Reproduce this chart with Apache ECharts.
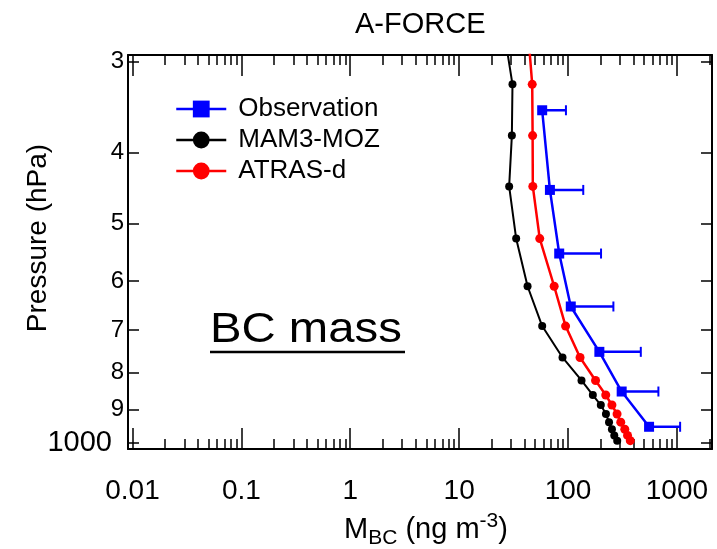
<!DOCTYPE html>
<html>
<head>
<meta charset="utf-8">
<script src="https://cdn.jsdelivr.net/npm/echarts@6/dist/echarts.min.js"></script>
<style>
html, body { margin: 0; padding: 0; background: #fff; }
#chart { width: 717px; height: 549px; }
</style>
</head>
<body>
<div id="chart"></div>
<script>
// model levels (hPa), first one sits above the plot top and gets clipped
const modelLevels = [274.1, 322.5, 379.1, 445.0, 524.7, 609.8, 691.4, 763.4, 820.9, 859.5, 887.0, 912.6, 936.2, 957.5, 976.3, 992.6];
const mam3Moz = [26, 30.9, 30.5, 28.8, 33.4, 42.5, 57.9, 89, 133, 169, 200, 223, 238, 253, 266, 283];
const atrasD = [43, 46.9, 47.3, 47.5, 55, 74.6, 95, 129, 179, 222, 253, 282, 305, 332, 352, 373];

const obsLevels = [350, 450, 550, 650, 750, 850, 950];
const obsMean = [57.9, 68.2, 83, 106, 194, 311, 555];
const obsUpper = [95.7, 138, 201, 261, 466, 676, 1070];

const xTicks = [0.01, 0.1, 1, 10, 100, 1000];
const xLabels = ['0.01', '0.1', '1', '10', '100', '1000'];
const yTicks = [300, 400, 500, 600, 700, 800, 900, 1000];
const yLabels = ['3', '4', '5', '6', '7', '8', '9', '1000'];

const FONT = 'Liberation Sans, Arial, sans-serif';

var minorTicks = [];
xTicks.forEach(function (d) {
    for (var k = 2; k <= 9; k++) {
        if (k * d <= 2100) minorTicks.push(k * d);
    }
});

function pairs(xs, ys) {
    return xs.map(function (v, i) { return [v, ys[i]]; });
}

var chart = echarts.init(document.getElementById('chart'));

var xRange = { min: 0.0091, max: 2100 };
var axisLine = { show: true, onZero: false, lineStyle: { color: '#000', width: 2 } };

function xAxisDef(pos, major, withLabel) {
    return {
        type: 'log',
        position: pos,
        min: xRange.min,
        max: xRange.max,
        axisLine: major ? axisLine : { show: false },
        splitLine: { show: false },
        axisTick: {
            show: true,
            inside: true,
            length: major ? 21 : 10,
            customValues: major ? xTicks : minorTicks,
            lineStyle: { color: '#000', width: 1.5 }
        },
        axisLabel: withLabel ? {
            show: true,
            customValues: xTicks,
            margin: 28,
            fontSize: 28,
            fontFamily: FONT,
            color: '#000',
            formatter: function (v) {
                var i = xTicks.findIndex(function (t) { return Math.abs(t - v) / t < 1e-6; });
                return i >= 0 ? xLabels[i] : '';
            }
        } : { show: false }
    };
}

function yAxisDef(pos, withLabel) {
    return {
        type: 'log',
        position: pos,
        inverse: true,
        min: 294,
        max: 1019,
        axisLine: axisLine,
        splitLine: { show: false },
        axisTick: {
            show: true,
            inside: true,
            length: 11,
            customValues: yTicks,
            lineStyle: { color: '#000', width: 1.5 }
        },
        axisLabel: withLabel ? {
            show: true,
            customValues: yTicks,
            margin: 4,
            fontSize: 24,
            fontFamily: FONT,
            color: '#000',
            formatter: function (v) {
                var i = yTicks.indexOf(Math.round(v));
                if (i < 0) return '';
                return i === yTicks.length - 1 ? '{big|' + yLabels[i] + '}' : yLabels[i];
            },
            rich: { big: { fontSize: 29, fontFamily: FONT, color: '#000', padding: [0, 12, 0, 0] } }
        } : { show: false }
    };
}

var option = {
    animation: false,
    backgroundColor: '#fff',
    title: {
        text: 'A-FORCE',
        left: 350,
        top: 5,
        textStyle: { fontSize: 29, fontWeight: 'normal', fontFamily: FONT, color: '#000' }
    },
    grid: { left: 128, top: 55, right: 5, bottom: 100, outerBoundsMode: 'none' },
    legend: {
        orient: 'vertical',
        left: 175,
        top: 96,
        padding: 0,
        itemWidth: 50,
        itemHeight: 21,
        itemGap: 5,
        lineStyle: { width: 2.5 },
        data: ['Observation', 'MAM3-MOZ', 'ATRAS-d'],
        textStyle: { fontSize: 26, fontFamily: FONT, color: '#000', padding: [0, 0, 0, 7] }
    },
    xAxis: [
        xAxisDef('bottom', true, true),
        xAxisDef('bottom', false, false),
        xAxisDef('top', true, false),
        xAxisDef('top', false, false)
    ],
    yAxis: [
        yAxisDef('left', true),
        yAxisDef('right', false)
    ],
    graphic: [
        {
            type: 'text',
            x: 38, y: 238,
            rotation: Math.PI / 2,
            style: { text: 'Pressure (hPa)', fontSize: 28, fontFamily: FONT, fill: '#000', align: 'center', verticalAlign: 'middle' }
        },
        {
            type: 'text',
            x: 426, y: 530,
            style: {
                text: '{a|M}{b|BC}{a| (ng m}{c|-3}{a|)}',
                align: 'center',
                verticalAlign: 'middle',
                rich: {
                    a: { fontSize: 29, fontFamily: FONT, fill: '#000', verticalAlign: 'middle', lineHeight: 38 },
                    b: { fontSize: 21, fontFamily: FONT, fill: '#000', verticalAlign: 'bottom', lineHeight: 38 },
                    c: { fontSize: 21, fontFamily: FONT, fill: '#000', verticalAlign: 'top', lineHeight: 38 }
                }
            }
        },
        {
            type: 'group',
            children: [
                {
                    type: 'text',
                    x: 210, y: 330,
                    scaleX: 1.1,
                    style: { text: 'BC mass', fontSize: 43, fontFamily: FONT, fill: '#000', verticalAlign: 'middle' }
                },
                {
                    type: 'line',
                    shape: { x1: 210, y1: 352, x2: 405, y2: 352 },
                    style: { stroke: '#000', lineWidth: 2.5 }
                }
            ]
        }
    ],
    series: [
        {
            name: 'MAM3-MOZ',
            type: 'line',
            data: pairs(mam3Moz, modelLevels),
            symbol: 'circle',
            symbolSize: 8,
            clip: true,
            color: '#000',
            lineStyle: { width: 2, color: '#000' },
            itemStyle: { color: '#000' }
        },
        {
            name: 'ATRAS-d',
            type: 'line',
            data: pairs(atrasD, modelLevels),
            symbol: 'circle',
            symbolSize: 9,
            clip: true,
            color: '#ff0000',
            lineStyle: { width: 2.5, color: '#ff0000' },
            itemStyle: { color: '#ff0000' }
        },
        {
            name: 'Observation',
            type: 'line',
            data: pairs(obsMean, obsLevels),
            symbol: 'rect',
            symbolSize: 10,
            clip: true,
            color: '#0000ff',
            lineStyle: { width: 2.5, color: '#0000ff' },
            itemStyle: { color: '#0000ff' }
        },
        {
            type: 'custom',
            data: obsLevels.map(function (p, i) { return [obsMean[i], obsUpper[i], p]; }),
            encode: { x: [0, 1], y: 2 },
            renderItem: function (params, api) {
                var a = api.coord([api.value(0), api.value(2)]);
                var b = api.coord([api.value(1), api.value(2)]);
                return {
                    type: 'group',
                    children: [
                        { type: 'line', shape: { x1: a[0], y1: a[1], x2: b[0], y2: b[1] }, style: { stroke: '#0000ff', lineWidth: 2.5 } },
                        { type: 'line', shape: { x1: b[0], y1: b[1] - 5, x2: b[0], y2: b[1] + 5 }, style: { stroke: '#0000ff', lineWidth: 2 } }
                    ]
                };
            }
        }
    ]
};

chart.setOption(option);
</script>
</body>
</html>
